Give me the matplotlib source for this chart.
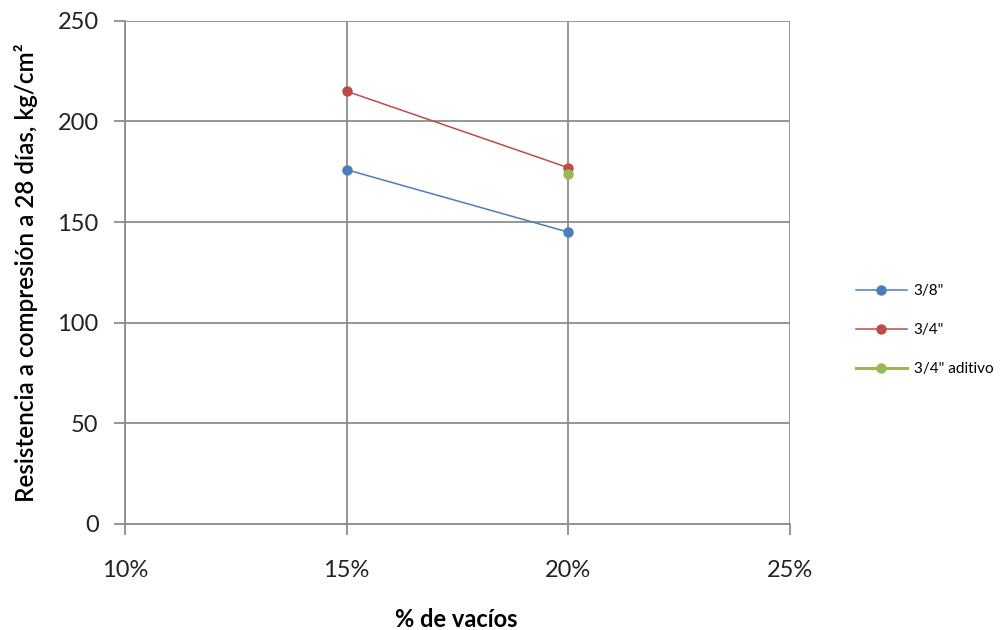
import matplotlib.pyplot as plt
from matplotlib.ticker import PercentFormatter

plt.rcParams['font.family'] = ['Lato', 'DejaVu Sans']

vacios = [0.15, 0.20]
serie_38 = [176, 145]
serie_34 = [215, 177]
vacios_aditivo = [0.20]
serie_34_aditivo = [174]

fig = plt.figure(figsize=(10.03, 6.30), dpi=100)
ax = fig.add_axes([0.1246, 0.1683, 0.663, 0.7987])

ax.plot(vacios, serie_38, color='#4a7ebb', lw=1.1, marker='o', ms=6.5, label='3/8"')
ax.plot(vacios, serie_34, color='#be4b48', lw=1.1, marker='o', ms=6.5, label='3/4"')
ax.plot(vacios_aditivo, serie_34_aditivo, color='#98b954', lw=2.2, marker='o', ms=6.5,
        label='3/4" aditivo')

ax.set_xlim(0.10, 0.25)
ax.set_ylim(0, 250)
ax.set_xticks([0.10, 0.15, 0.20, 0.25])
ax.set_yticks(range(0, 251, 50))
ax.xaxis.set_major_formatter(PercentFormatter(1.0, decimals=0))
ax.grid(True, color='#8c8c8c', lw=1.3)
ax.set_axisbelow(True)

for s in ['top', 'right']:
    ax.spines[s].set_visible(False)
for s in ['left', 'bottom']:
    ax.spines[s].set_color('#8c8c8c')
    ax.spines[s].set_linewidth(1.3)

ax.tick_params(axis='x', length=8, width=1.3, color='#8c8c8c', pad=18, labelsize=17,
               labelcolor='#222222')
ax.tick_params(axis='y', length=8, width=1.3, color='#8c8c8c', pad=11, labelsize=17,
               labelcolor='#222222')

fig.text(0.455, 0.016, '% de vacíos', fontsize=17, fontweight='bold', ha='center',
         va='center')
ax.set_ylabel('Resistencia a compresión a 28 días, kg/cm²', fontsize=17.5,
              fontweight='semibold', labelpad=14)

leg = ax.legend(loc='center left', bbox_to_anchor=(1.079, 0.385), frameon=False,
                fontsize=11, handlelength=3.3, handletextpad=0.45, labelspacing=1.65)

fig.savefig('out.png', dpi=100)
